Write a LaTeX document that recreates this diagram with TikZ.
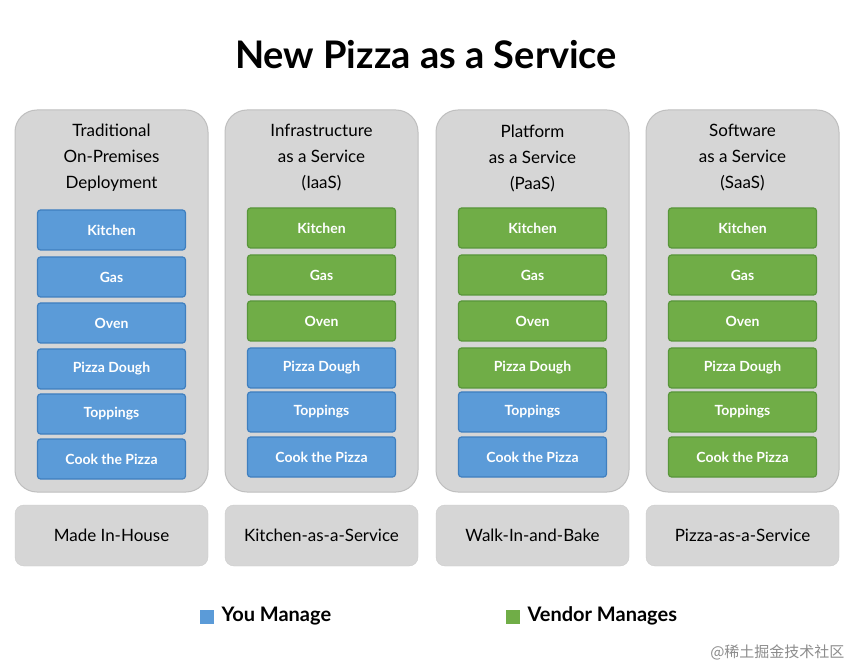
\documentclass[tikz,border=0pt]{standalone}
\usepackage{fontspec}
\setmainfont{Lato}
\newfontfamily\cjk{Noto Sans CJK SC}
\begin{document}
\begin{tikzpicture}[x=1pt,y=-1pt,
 panel/.style={draw=black!25,fill=black!16,rounded corners=22pt,line width=1pt},
 foot/.style={draw=black!20,fill=black!16,rounded corners=9pt,minimum width=193pt,minimum height=61pt,font=\fontsize{17}{20}\selectfont},
 bx/.style={rounded corners=3pt,minimum width=148pt,minimum height=40pt,text=white,font=\bfseries\fontsize{14}{16}\selectfont,line width=1.2pt},
 you/.style={bx,fill=blue1,draw=blue2},
 ven/.style={bx,fill=green1,draw=green2},
 head/.style={align=center,font=\fontsize{17}{26}\selectfont}]
\definecolor{blue1}{HTML}{5B9BD8}
\definecolor{blue2}{HTML}{3F7FBF}
\definecolor{green1}{HTML}{70AD47}
\definecolor{green2}{HTML}{58963A}
\useasboundingbox[fill=white] (0,0) rectangle (852,668);
\node[font=\bfseries\fontsize{38}{44}\selectfont] (title) at (426,55) {New Pizza as a Service};
\foreach \c/\x in {1/111.5,2/321.5,3/532.5,4/742.5}{
  \draw[panel] (\x-96.5,110) rectangle (\x+96.5,492);
}
\node[head] (h1) at (111.5,158) {Traditional\\On-Premises\\Deployment};
\node[head] (h2) at (321.5,158) {Infrastructure\\as a Service\\(IaaS)};
\node[head] (h3) at (532.5,158) {Platform\\as a Service\\(PaaS)};
\node[head] (h4) at (742.5,158) {Software\\as a Service\\(SaaS)};
\foreach \n/\t/\y in {1/Kitchen/230,2/Gas/277,3/Oven/323,4/Pizza Dough/369,5/Toppings/414,6/Cook the Pizza/459}{
  \node[you] (a\n) at (111.5,\y) {\t};
}
\foreach \n/\t/\y/\s in {1/Kitchen/228/ven,2/Gas/275/ven,3/Oven/321/ven,4/Pizza Dough/368/you,5/Toppings/412/you,6/Cook the Pizza/457/you}{
  \node[\s] (b\n) at (321.5,\y) {\t};
}
\foreach \n/\t/\y/\s in {1/Kitchen/228/ven,2/Gas/275/ven,3/Oven/321/ven,4/Pizza Dough/368/ven,5/Toppings/412/you,6/Cook the Pizza/457/you}{
  \node[\s] (c\n) at (532.5,\y) {\t};
}
\foreach \n/\t/\y in {1/Kitchen/228,2/Gas/275,3/Oven/321,4/Pizza Dough/368,5/Toppings/412,6/Cook the Pizza/457}{
  \node[ven] (d\n) at (742.5,\y) {\t};
}
\node[foot] (f1) at (111.5,535.5) {Made In-House};
\node[foot] (f2) at (321.5,535.5) {Kitchen-as-a-Service};
\node[foot] (f3) at (532.5,535.5) {Walk-In-and-Bake};
\node[foot] (f4) at (742.5,535.5) {Pizza-as-a-Service};
\node[fill=blue1,minimum size=14pt,inner sep=0pt] (ly) at (207,617) {};
\node[anchor=west,font=\bfseries\fontsize{20}{24}\selectfont] (lyt) at (218,616) {You Manage};
\node[fill=green1,minimum size=14pt,inner sep=0pt] (lv) at (513,617) {};
\node[anchor=west,font=\bfseries\fontsize{20}{24}\selectfont] (lvt) at (524,616) {Vendor Manages};
\node[anchor=east,text=black!45,font=\cjk\fontsize{15}{18}\selectfont] (wm) at (848,652) {@稀土掘金技术社区};
\end{tikzpicture}
\end{document}
